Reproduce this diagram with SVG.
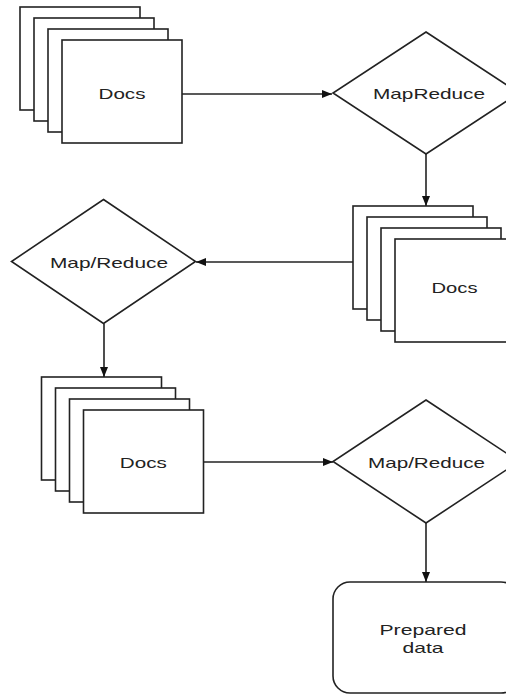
<svg xmlns="http://www.w3.org/2000/svg" width="506" height="694" viewBox="0 0 506 694">
<style>
.s{fill:#fff;stroke:#222;stroke-width:1.6}
.t{font-family:"Liberation Sans",Arial,sans-serif;font-size:15px;fill:#222;text-anchor:middle}
.c{stroke:#222;stroke-width:1.6;fill:none;marker-end:url(#ah)}
</style>
<defs>
<marker id="ah" viewBox="0 0 10 8" refX="10" refY="4" markerWidth="10" markerHeight="8" markerUnits="userSpaceOnUse" orient="auto">
<path d="M0,0 L10,4 L0,8 z" fill="#111"/>
</marker>
<g id="stack">
<rect class="s" x="0" y="0" width="120" height="103"/>
<rect class="s" x="14" y="11" width="120" height="103"/>
<rect class="s" x="28" y="22" width="120" height="103"/>
<rect class="s" x="42" y="33" width="120" height="103"/>
</g>
</defs>
<g id="docs1">
<use href="#stack" x="20" y="7"/>
<text class="t" x="122" y="99" textLength="47" lengthAdjust="spacingAndGlyphs">Docs</text>
</g>
<g id="mapreduce1">
<polygon class="s" points="426,32 519,93 426,154 333,93"/>
<text class="t" x="429" y="99" textLength="112" lengthAdjust="spacingAndGlyphs">MapReduce</text>
</g>
<g id="docs2">
<use href="#stack" x="353" y="206"/>
<text class="t" x="454.5" y="293" textLength="46" lengthAdjust="spacingAndGlyphs">Docs</text>
</g>
<g id="mapreduce2">
<polygon class="s" points="103.5,199.5 195.5,261.5 103.5,323.5 11.5,261.5"/>
<text class="t" x="109" y="268" textLength="118" lengthAdjust="spacingAndGlyphs">Map/Reduce</text>
</g>
<g id="docs3">
<use href="#stack" x="41.5" y="377"/>
<text class="t" x="143.3" y="467.5" textLength="47" lengthAdjust="spacingAndGlyphs">Docs</text>
</g>
<g id="mapreduce3">
<polygon class="s" points="426,400 519,461.5 426,523 333,461.5"/>
<text class="t" x="426.5" y="468" textLength="117" lengthAdjust="spacingAndGlyphs">Map/Reduce</text>
</g>
<g id="prepared">
<rect class="s" x="333" y="582" width="185" height="111" rx="17"/>
<text class="t" x="423" y="635" textLength="87" lengthAdjust="spacingAndGlyphs">Prepared</text>
<text class="t" x="423" y="653" textLength="41" lengthAdjust="spacingAndGlyphs">data</text>
</g>
<g id="connectors">
<path class="c" d="M182,94 H332"/>
<path class="c" d="M426,154 V206"/>
<path class="c" d="M353,262 H196"/>
<path class="c" d="M104,323.5 V377"/>
<path class="c" d="M203.5,462 H333"/>
<path class="c" d="M426,523 V582"/>
</g>
</svg>
